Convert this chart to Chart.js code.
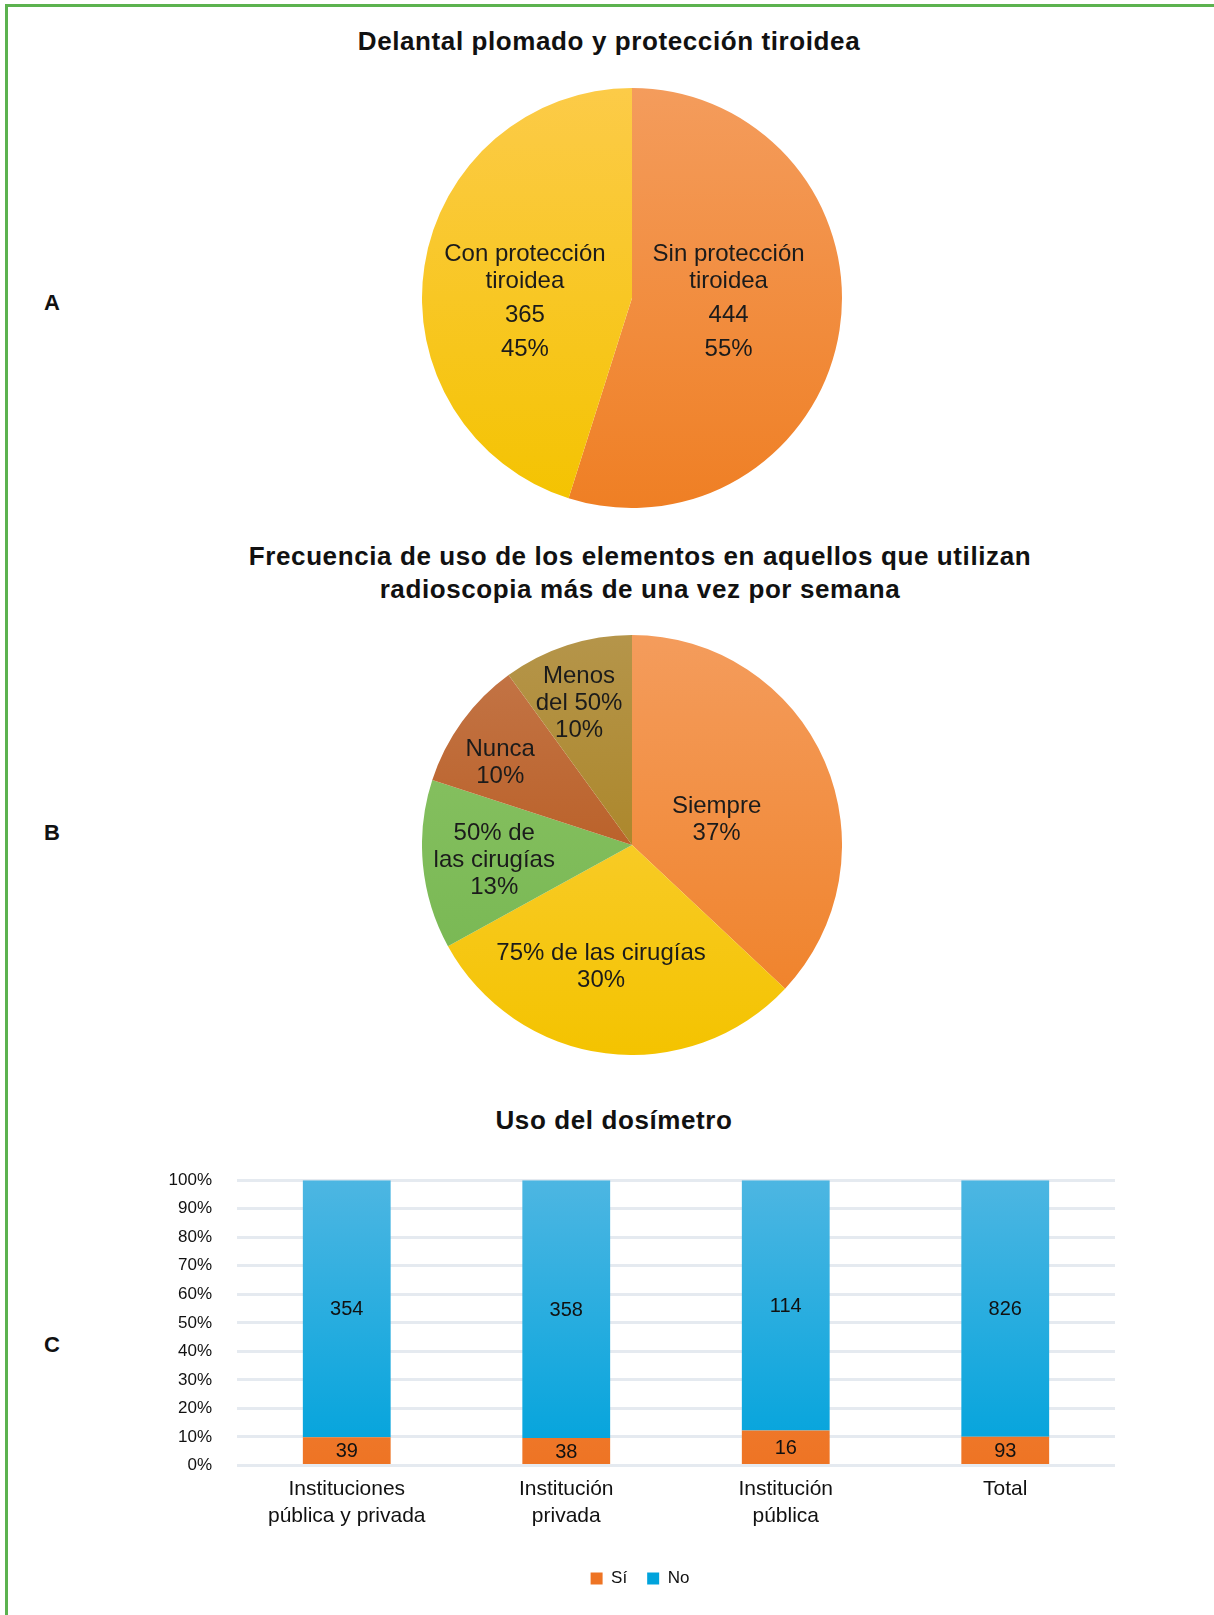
<!DOCTYPE html>
<html lang="es">
<head>
<meta charset="utf-8">
<title>Delantal plomado, frecuencia de uso y dosímetro</title>
<script src="https://cdn.jsdelivr.net/npm/chart.js@4.4.1/dist/chart.umd.min.js"></script>
<style>
  html, body { margin: 0; padding: 0; background: #fff; }
  body {
    width: 1214px; height: 1615px; position: relative; overflow: hidden;
    font-family: "Liberation Sans", Arial, Helvetica, sans-serif; color: #111;
  }
  .frame {
    position: absolute; left: 5px; top: 4px; right: -10px; bottom: -10px;
    border-left: 3px solid #5cb24f; border-top: 3px solid #5cb24f;
  }
  .title {
    position: absolute; width: 1000px; font-weight: bold; font-size: 26px;
    letter-spacing: 0.6px; line-height: 33px; text-align: center; white-space: nowrap;
  }
  .panel {
    position: absolute; left: 40px; width: 24px; text-align: center;
    font-weight: bold; font-size: 22px; line-height: 26px;
  }
  canvas { position: absolute; }
</style>
</head>
<body>
<div class="frame"></div>

<div class="title" style="left:109px; top:25px;">Delantal plomado y protección tiroidea</div>
<div class="title" style="left:140px; top:540px;">Frecuencia de uso de los elementos en aquellos que utilizan<br>radioscopia más de una vez por semana</div>
<div class="title" style="left:114px; top:1104px;">Uso del dosímetro</div>

<div class="panel" style="top:290px;">A</div>
<div class="panel" style="top:820px;">B</div>
<div class="panel" style="top:1332px;">C</div>

<canvas id="pieA" width="420" height="420" style="left:422px; top:88px;"></canvas>
<canvas id="pieB" width="420" height="420" style="left:422px; top:635px;"></canvas>
<canvas id="barC" width="975" height="470" style="left:165px; top:1145px;"></canvas>

<script>
// ===== Data =====

// A: delantal plomado y protección tiroidea (clockwise from the top)
const protLabels = [["Sin protección", "tiroidea"], ["Con protección", "tiroidea"]];
const protCounts = [444, 365];

// B: frecuencia de uso (percent, clockwise from the top)
const freqLabels = [["Siempre"], ["75% de las cirugías"], ["50% de", "las cirugías"], ["Nunca"], ["Menos", "del 50%"]];
const freqPercent = [37, 30, 13, 10, 10];

// C: uso del dosímetro
const dosiCategories = [["Instituciones", "pública y privada"], ["Institución", "privada"], ["Institución", "pública"], "Total"];
const dosiSi = [39, 38, 16, 93];
const dosiNo = [354, 358, 114, 826];
const dosiTicks = [0, 10, 20, 30, 40, 50, 60, 70, 80, 90, 100];

// ===== Shared helpers =====

Chart.defaults.font.family = '"Liberation Sans", Arial, Helvetica, sans-serif';
Chart.defaults.color = '#111';
Chart.defaults.animation = false;

function vGrad(chart, top, bottom) {
  const area = chart.chartArea;
  if (!area) return bottom;
  const g = chart.ctx.createLinearGradient(0, area.top, 0, area.bottom);
  g.addColorStop(0, top);
  g.addColorStop(1, bottom);
  return g;
}

// text inside each slice, placed by radius fraction and small angle nudge
const sliceText = {
  id: 'sliceText',
  afterDatasetsDraw(chart, args, opts) {
    const ctx = chart.ctx;
    const arcs = chart.getDatasetMeta(0).data;
    ctx.save();
    ctx.font = opts.font;
    ctx.fillStyle = '#1b1b1b';
    ctx.textAlign = 'center';
    ctx.textBaseline = 'middle';
    arcs.forEach((arc, i) => {
      const p = arc.getProps(['x', 'y', 'startAngle', 'endAngle', 'outerRadius'], true);
      const place = opts.place[i];
      const a = (p.startAngle + p.endAngle) / 2 + place.da * Math.PI / 180;
      const r = p.outerRadius * place.r;
      const cx = p.x + Math.cos(a) * r;
      const cy = p.y + Math.sin(a) * r;
      const lines = opts.lines(i);
      const offs = opts.offsets ? opts.offsets(lines.length)
        : lines.map((t, k) => (k - (lines.length - 1) / 2) * opts.lineHeight);
      lines.forEach((t, k) => ctx.fillText(t, cx, cy + offs[k]));
    });
    ctx.restore();
  }
};

// ===== A: pie =====

const protTop = ['#f49c5c', '#fccb48'];
const protBottom = ['#ef7f24', '#f4c300'];
const protTotal = protCounts.reduce((s, v) => s + v, 0);

new Chart(document.getElementById('pieA'), {
  type: 'pie',
  data: {
    labels: protLabels.map(l => l.join(' ')),
    datasets: [{
      data: protCounts,
      borderWidth: 0,
      backgroundColor: c => vGrad(c.chart, protTop[c.dataIndex], protBottom[c.dataIndex])
    }]
  },
  options: {
    responsive: false,
    plugins: {
      legend: { display: false },
      tooltip: { enabled: false },
      sliceText: {
        font: '24px "Liberation Sans", Arial, sans-serif',
        // name lines sit closer together than the number lines
        offsets: () => [-46, -19, 15, 49],
        place: [{ r: 0.46, da: -7.6 }, { r: 0.51, da: -10 }],
        lines: i => [...protLabels[i], String(protCounts[i]), Math.round(protCounts[i] / protTotal * 100) + '%']
      }
    }
  },
  plugins: [sliceText]
});

// ===== B: pie =====

const freqTop = ['#f49c5c', '#fbd24a', '#8cc466', '#c4774a', '#b5954a'];
const freqBottom = ['#ef7f24', '#f4c300', '#74b54f', '#b24e0c', '#a47a0e'];

new Chart(document.getElementById('pieB'), {
  type: 'pie',
  data: {
    labels: freqLabels.map(l => l.join(' ')),
    datasets: [{
      data: freqPercent,
      borderWidth: 0,
      backgroundColor: c => vGrad(c.chart, freqTop[c.dataIndex], freqBottom[c.dataIndex])
    }]
  },
  options: {
    responsive: false,
    plugins: {
      legend: { display: false },
      tooltip: { enabled: false },
      sliceText: {
        font: '24px "Liberation Sans", Arial, sans-serif',
        lineHeight: 27,
        place: [
          { r: 0.42, da: 7 },
          { r: 0.6, da: 7 },
          { r: 0.66, da: -1 },
          { r: 0.74, da: -4 },
          { r: 0.72, da: -2.5 }
        ],
        lines: i => [...freqLabels[i], freqPercent[i] + '%']
      }
    }
  },
  plugins: [sliceText]
});

// ===== C: 100% stacked bars =====

const toPct = (v, i) => v / (dosiSi[i] + dosiNo[i]) * 100;

// raw counts written in the middle of each segment
const segmentCounts = {
  id: 'segmentCounts',
  afterDatasetsDraw(chart) {
    const ctx = chart.ctx;
    ctx.save();
    ctx.font = '20px "Liberation Sans", Arial, sans-serif';
    ctx.fillStyle = '#111';
    ctx.textAlign = 'center';
    ctx.textBaseline = 'middle';
    chart.data.datasets.forEach((ds, d) => {
      chart.getDatasetMeta(d).data.forEach((bar, i) => {
        const p = bar.getProps(['x', 'y', 'base'], true);
        ctx.fillText(String(ds.counts[i]), p.x, (p.y + p.base) / 2 + 1);
      });
    });
    ctx.restore();
  }
};

new Chart(document.getElementById('barC'), {
  type: 'bar',
  data: {
    labels: dosiCategories,
    datasets: [
      {
        label: 'Sí',
        counts: dosiSi,
        data: dosiSi.map(toPct),
        backgroundColor: c => vGrad(c.chart, '#f28c4c', '#ee7424'),
        borderWidth: 0
      },
      {
        label: 'No',
        counts: dosiNo,
        data: dosiNo.map(toPct),
        backgroundColor: c => vGrad(c.chart, '#4db6e2', '#00a3dc'),
        borderWidth: 0
      }
    ]
  },
  options: {
    responsive: false,
    layout: { padding: { top: 4, right: 25, bottom: 18, left: 0 } },
    datasets: { bar: { barPercentage: 0.4, categoryPercentage: 1 } },
    scales: {
      x: {
        stacked: true,
        grid: { display: false },
        border: { display: false },
        ticks: {
          autoSkip: false, maxRotation: 0, padding: 2,
          font: { size: 21, lineHeight: 1.3 }, color: '#111'
        },
        afterFit: s => { s.height = 84.5; }
      },
      y: {
        stacked: true,
        min: 0, max: 100,
        afterBuildTicks: s => { s.ticks = dosiTicks.map(v => ({ value: v })); },
        grid: { color: '#e5eaf0', lineWidth: 3, drawTicks: false },
        border: { display: false },
        ticks: { padding: 25, font: { size: 17 }, color: '#111', callback: v => v + '%' },
        afterFit: s => { s.width = 72; }
      }
    },
    plugins: {
      legend: {
        position: 'bottom',
        labels: { boxWidth: 12, boxHeight: 12, padding: 20, font: { size: 17 }, color: '#111' }
      },
      tooltip: { enabled: false }
    }
  },
  plugins: [segmentCounts]
});
</script>
</body>
</html>
